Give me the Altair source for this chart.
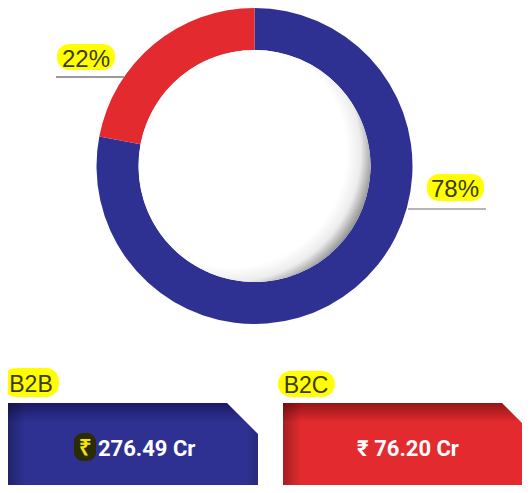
import math
import altair as alt
import pandas as pd

# ---- data ----
categories = ["B2B", "B2C"]
shares = [78, 22]
amounts = ["276.49", "76.20"]
colors = ["#2e3192", "#e32b2f"]

W, H = 514, 477
OFF = 8


def P(v):
    return v - OFF


df = pd.DataFrame({
    "cat": categories,
    "share": shares,
    "idx": list(range(len(categories))),
    "label": [f"{s}%" for s in shares],
    "amount": [f"{a} Cr" for a in amounts],
    "amount_full": [f"\u20b9 {a} Cr" for a in amounts],
})
one = pd.DataFrame({"k": [0]})

base = alt.Chart(df)
CX, CY = P(254.5), P(166)

donut = base.mark_arc(outerRadius=158, innerRadius=116).encode(
    theta=alt.Theta("share:Q", stack=True),
    order=alt.Order("idx:Q"),
    color=alt.Color("cat:N", scale=alt.Scale(domain=categories, range=colors), legend=None),
    x=alt.value(CX), y=alt.value(CY),
)

hole = alt.Chart(one).mark_arc(
    outerRadius=116, innerRadius=0, theta=0, theta2=2 * math.pi,
    fill=alt.RadialGradient(
        gradient="radial",
        stops=[alt.GradientStop(color="#ffffff", offset=0),
               alt.GradientStop(color="#ffffff", offset=0.80),
               alt.GradientStop(color="#ececec", offset=0.90),
               alt.GradientStop(color="#8c8c8c", offset=1)],
        x1=0.40, y1=0.44, r1=0, x2=0.40, y2=0.44, r2=0.62,
    ),
).encode(x=alt.value(CX), y=alt.value(CY))

YEL = "#ffff00"
TXT = "#3a3a00"
COND = "Roboto, 'Liberation Sans', sans-serif"


def highlight(x0, x1, y0, y1, r=12):
    return alt.Chart(one).mark_rect(color=YEL, cornerRadius=r).encode(
        x=alt.value(P(x0)), x2=alt.value(P(x1)), y=alt.value(P(y0)), y2=alt.value(P(y1)))


def rule(x0, x1, y, color):
    return alt.Chart(one).mark_rule(color=color, strokeWidth=2).encode(
        x=alt.value(P(x0)), x2=alt.value(P(x1)), y=alt.value(P(y)))


def label(cat, field, x, y, size, align="center", color=TXT, weight="normal", font="Liberation Sans"):
    return base.transform_filter(alt.datum.cat == cat).mark_text(
        align=align, baseline="alphabetic", fontSize=size, font=font,
        fontWeight=weight, color=color,
    ).encode(text=f"{field}:N", x=alt.value(P(x)), y=alt.value(P(y)))


pct_layers = [
    rule(56, 124, 77, "#9a9a9a"),
    highlight(57, 115, 44, 70),
    label("B2C", "label", 86, 67, 24),
    rule(408, 486, 209, "#b5b5b5"),
    highlight(427, 484, 174, 201),
    label("B2B", "label", 455, 197, 24),
]

# ---- bottom boxes ----
def box(x0, x1, y0, y1, top, mid):
    fill = alt.LinearGradient(
        gradient="linear",
        stops=[alt.GradientStop(color=top, offset=0),
               alt.GradientStop(color=mid, offset=0.2),
               alt.GradientStop(color=mid, offset=1)],
        x1=0, y1=0, x2=0, y2=1)
    shade = alt.LinearGradient(
        gradient="linear",
        stops=[alt.GradientStop(color="rgba(0,0,0,0.28)", offset=0),
               alt.GradientStop(color="rgba(0,0,0,0)", offset=0.07),
               alt.GradientStop(color="rgba(0,0,0,0)", offset=0.95),
               alt.GradientStop(color="rgba(0,0,0,0.15)", offset=1)],
        x1=0, y1=0, x2=1, y2=0)
    r1 = alt.Chart(one).mark_rect(fill=fill).encode(
        x=alt.value(P(x0)), x2=alt.value(P(x1)), y=alt.value(P(y0)), y2=alt.value(P(y1)))
    r2 = alt.Chart(one).mark_rect(fill=shade).encode(
        x=alt.value(P(x0)), x2=alt.value(P(x1)), y=alt.value(P(y0)), y2=alt.value(P(y1)))
    return [r1, r2]


def corner(cx, cy, side):
    return alt.Chart(one).mark_point(
        shape="M -1 -1 L 1 -1 L 1 1 Z", filled=True, fill="#ffffff", opacity=1,
        strokeWidth=0, size=side * side,
    ).encode(x=alt.value(P(cx)), y=alt.value(P(cy)))


box_layers = (
    box(8, 258, 403, 500, "#1b1a66", "#2e3192")
    + [corner(242.5, 418.5, 32)]
    + box(283, 540, 403, 500, "#941416", "#e32b2f")
    + [corner(516, 417, 30)]
    + [
        highlight(3, 59, 368, 397, 13),
        label("B2B", "cat", 31, 392, 23),
        highlight(278, 335, 371, 397, 13),
        label("B2C", "cat", 306, 393, 23),
        alt.Chart(one).mark_rect(color="#2b2b04", cornerRadius=9).encode(
            x=alt.value(P(74)), x2=alt.value(P(96)), y=alt.value(P(433)), y2=alt.value(P(461))),
        alt.Chart(one).mark_text(text="\u20b9", fontSize=22, fontWeight="bold", color="#f2e40c",
                                 font="Liberation Sans", align="center", baseline="alphabetic").encode(
            x=alt.value(P(85)), y=alt.value(P(455))),
        label("B2B", "amount", 98, 456, 22, align="left", color="#ffffff", weight="bold", font=COND),
        label("B2C", "amount_full", 408, 456, 22, align="center", color="#ffffff", weight="bold", font=COND),
    ]
)

chart = alt.layer(donut, hole, *pct_layers, *box_layers).properties(
    width=W, height=H, autosize=alt.AutoSizeParams(type="none"), padding=0,
).configure_view(stroke=None)

chart.save("out.html", embed_options={"renderer": "svg", "actions": False})
